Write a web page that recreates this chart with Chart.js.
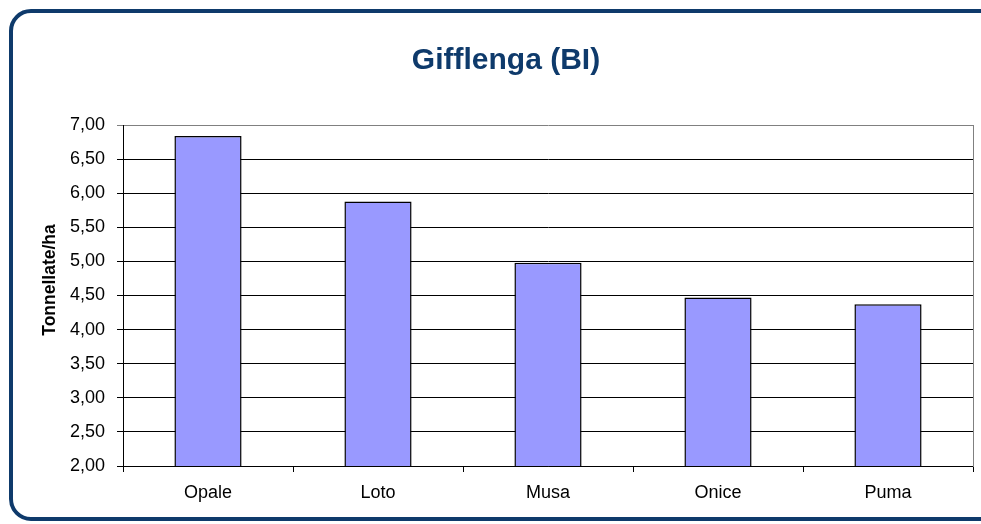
<!DOCTYPE html>
<html>
<head>
<meta charset="utf-8">
<script src="https://cdn.jsdelivr.net/npm/chart.js@4"></script>
<style>
    body { margin: 0; background: #fff; }
    #wrap { position: relative; width: 981px; height: 524px; overflow: hidden; }
    #frame {
        position: absolute; left: 9px; top: 9px; width: 1000px; height: 512px;
        border: 4px solid #0e3a6b; border-radius: 22px; box-sizing: border-box;
    }
    canvas { position: absolute; left: 0; top: 0; }
</style>
</head>
<body>
<div id="wrap">
    <div id="frame"></div>
    <canvas id="chart" width="981" height="524"></canvas>
</div>
<script>
let varieties = ["Opale", "Loto", "Musa", "Onice", "Puma"];
let yields = [6.84, 5.88, 4.98, 4.47, 4.37];
let yTicks = [2, 2.5, 3, 3.5, 4, 4.5, 5, 5.5, 6, 6.5, 7];
let yTitle = "Tonnellate/ha";

const ctx = document.getElementById("chart").getContext("2d");
Chart.defaults.font.family = "'Liberation Sans', Arial, sans-serif";
Chart.defaults.color = "#000";

// y title sits a little above the middle of the plot, so draw it by hand
const yTitlePlugin = {
    id: "yTitle",
    afterDraw(chart) {
        const c = chart.ctx;
        c.save();
        c.translate(50, 280);
        c.rotate(-Math.PI / 2);
        c.font = "bold 17.5px 'Liberation Sans', Arial, sans-serif";
        c.fillStyle = "#000";
        c.textAlign = "center";
        c.textBaseline = "middle";
        c.fillText(yTitle, 0, 0);
        c.restore();
    }
};

new Chart(ctx, {
    type: "bar",
    data: {
        labels: varieties,
        datasets: [{
            label: yTitle,
            data: yields,
            backgroundColor: "#9999ff",
            borderColor: "#000",
            borderWidth: 1.5,
            barPercentage: 0.79,
            categoryPercentage: 0.5
        }]
    },
    options: {
        responsive: false,
        animation: false,
        layout: { padding: { left: 39, right: 8 } },
        plugins: {
            legend: { display: false },
            tooltip: { enabled: false },
            title: {
                display: true,
                text: "Gifflenga (BI)",
                color: "#0e3a6b",
                font: { size: 30, weight: "bold" },
                padding: { top: 43, bottom: 46 }
            }
        },
        scales: {
            x: {
                offset: true,
                grid: { offset: true, drawOnChartArea: false, color: "#000", tickLength: 6 },
                border: { color: "#000" },
                ticks: { font: { size: 18 }, padding: 10 },
                afterFit: s => { s.height = 58; }
            },
            y: {
                min: 2,
                max: 7,
                afterBuildTicks: s => { s.ticks = yTicks.map(v => ({ value: v })); },
                ticks: {
                    font: { size: 18 },
                    padding: 12,
                    callback: v => v.toFixed(2).replace(".", ",")
                },
                grid: {
                    color: c => c.tick && c.tick.value === 7 ? "#808080" : "#000",
                    tickLength: 6
                },
                border: { color: "#000" },
                afterFit: s => { s.width = 84; }
            },
            yRight: {
                position: "right",
                min: 2,
                max: 7,
                ticks: { display: false },
                grid: { display: false },
                border: { color: "#808080" },
                afterFit: s => { s.width = 0; }
            }
        }
    },
    plugins: [yTitlePlugin]
});
</script>
</body>
</html>
